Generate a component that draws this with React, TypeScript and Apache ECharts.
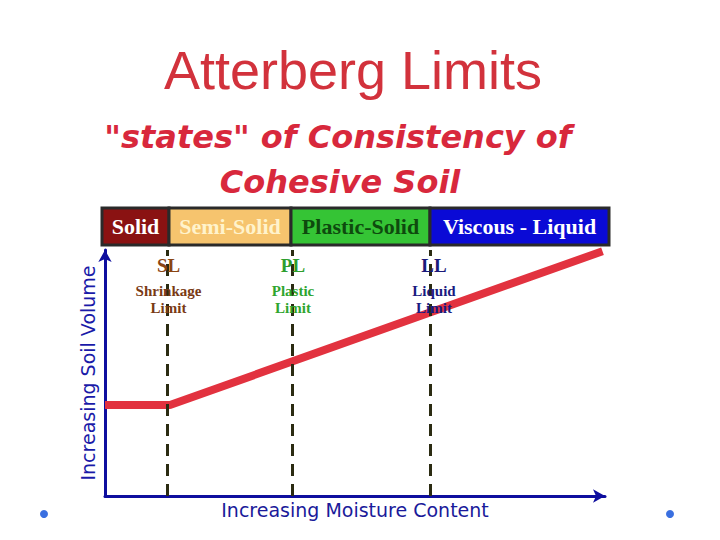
import React, { useEffect, useRef } from "react";
import * as echarts from "echarts";

// ---- data ----
const stateNames = ["Solid", "Semi-Solid", "Plastic-Solid", "Viscous - Liquid"];
const stateFill = ["#8A1212", "#F6C46E", "#35C435", "#0A0AD6"];
const stateText = ["#FFFFFF", "#FFF3CC", "#0E4A0E", "#FFFFFF"];
const moistureMin = 0;
const moistureMax = 100;
const limitAbbr = ["SL", "PL", "LL"];
const limitNames = [["Shrinkage", "Limit"], ["Plastic", "Limit"], ["Liquid", "Limit"]];
const limitMoisture = [12.4, 37.4, 65];
const limitLabelX = [12.7, 37.6, 65.8];
const abbrColors = ["#8B4513", "#2E9E2E", "#1A1A7A"];
const nameColors = ["#7A3A14", "#2FA52F", "#1A1A80"];
const curveMoisture = [0, 13, 99.5];
const curveVolume = [37, 37, 99.5];

export default function App() {
  const ref = useRef<HTMLDivElement>(null);
  useEffect(() => {
    if (!ref.current) return;
    const chart = echarts.init(ref.current, null, { renderer: "svg" });
    const bounds = [-0.6, limitMoisture[0] + 0.4, limitMoisture[1] - 0.2, limitMoisture[2], 100.8];
    const stateData = stateNames.map((n, i) => [bounds[i], bounds[i + 1], i]);
    const axisColor = "#0E0E9E";
    const subStyle = {
      align: "center", verticalAlign: "middle", fontFamily: "DejaVu Sans", fontStyle: "italic", fontWeight: "bold",
      fontSize: 32, fill: "#D8283C", textShadowColor: "#6A1018", textShadowOffsetX: 2, textShadowOffsetY: 2, textShadowBlur: 0,
    };
    chart.setOption({
      animation: false,
      backgroundColor: "#ffffff",
      graphic: [
        { type: "text", x: 353, y: 70, style: { text: "Atterberg Limits", align: "center", verticalAlign: "middle", fontFamily: "Liberation Sans", fontSize: 54, fill: "#D2323C" } },
        { type: "text", x: 338, y: 137, style: { ...subStyle, text: '"states" of Consistency of' } },
        { type: "text", x: 340, y: 182, style: { ...subStyle, text: "Cohesive Soil" } },
        { type: "circle", shape: { cx: 44, cy: 514, r: 4 }, style: { fill: "#3A6FE0" } },
        { type: "circle", shape: { cx: 670, cy: 514, r: 4 }, style: { fill: "#3A6FE0" } },
      ],
      grid: [
        { left: 105, right: 115, top: 250, bottom: 44 },
        { left: 102, right: 111, top: 208, height: 37 },
      ],
      xAxis: [
        {
          gridIndex: 0, type: "value", min: moistureMin, max: moistureMax,
          name: "Increasing Moisture Content", nameLocation: "middle", nameGap: 4,
          nameTextStyle: { fontFamily: "DejaVu Sans", fontSize: 19, color: "#1A1A9A", verticalAlign: "top" },
          axisLine: { show: true, symbol: ["none", "arrow"], symbolSize: [10, 12], lineStyle: { color: axisColor, width: 3 } },
          axisTick: { show: false }, axisLabel: { show: false }, splitLine: { show: false },
        },
        { gridIndex: 1, type: "value", min: -0.6, max: 100.8, show: false },
      ],
      yAxis: [
        {
          gridIndex: 0, type: "value", min: 0, max: 100,
          name: "Increasing Soil Volume", nameLocation: "middle", nameGap: 8, nameRotate: 90,
          nameTextStyle: { fontFamily: "DejaVu Sans", fontSize: 19, color: "#1A1AA8", verticalAlign: "bottom" },
          axisLine: { show: true, symbol: ["none", "arrow"], symbolSize: [10, 12], lineStyle: { color: axisColor, width: 3 } },
          axisTick: { show: false }, axisLabel: { show: false }, splitLine: { show: false },
        },
        { gridIndex: 1, type: "value", min: 0, max: 1, show: false },
      ],
      series: [
        {
          type: "custom", xAxisIndex: 1, yAxisIndex: 1, data: stateData,
          renderItem: (params: any, api: any) => {
            const s = api.value(0), e = api.value(1), i = api.value(2);
            const p0 = api.coord([s, 1]);
            const p1 = api.coord([e, 0]);
            return {
              type: "rect",
              shape: { x: p0[0], y: p0[1], width: p1[0] - p0[0], height: p1[1] - p0[1] },
              style: { fill: stateFill[i], stroke: "#2A2A2A", lineWidth: 3 },
              textContent: { style: { text: stateNames[i], fill: stateText[i], fontFamily: "Liberation Serif", fontWeight: "bold", fontSize: 22 } },
              textConfig: { position: "inside" },
            };
          },
        },
        {
          type: "line", xAxisIndex: 0, yAxisIndex: 0, data: [], z: 1,
          markLine: {
            silent: true, symbol: ["none", "none"], label: { show: false },
            lineStyle: { color: "#2B2B12", width: 3, type: [12, 8] },
            data: limitMoisture.map((x) => ({ xAxis: x })),
          },
        },
        {
          type: "line", xAxisIndex: 0, yAxisIndex: 0, z: 4, clip: false,
          data: curveMoisture.map((x, i) => [x, curveVolume[i]]),
          symbol: "none",
          lineStyle: { color: "#E2323F", width: 8 },
        },
        {
          type: "scatter", xAxisIndex: 0, yAxisIndex: 0, symbolSize: 0, z: 6,
          itemStyle: { opacity: 1 },
          data: limitAbbr.map((a, i) => ({
            value: [limitLabelX[i], 86.6],
            label: {
              show: true, position: "inside", opacity: 1,
              formatter: `{a|${a}}\n{n|${limitNames[i][0]}}\n{n|${limitNames[i][1]}}`,
              rich: {
                a: { fontFamily: "Liberation Serif", fontWeight: "bold", fontSize: 19, color: abbrColors[i], lineHeight: 34, align: "center" },
                n: { fontFamily: "Liberation Serif", fontWeight: "bold", fontSize: 15, color: nameColors[i], lineHeight: 17, align: "center" },
              },
            },
          })),
        },
      ],
    });
    return () => chart.dispose();
  }, []);
  return <div ref={ref} style={{ width: 720, height: 540, position: "absolute", left: 0, top: 0 }} />;
}
